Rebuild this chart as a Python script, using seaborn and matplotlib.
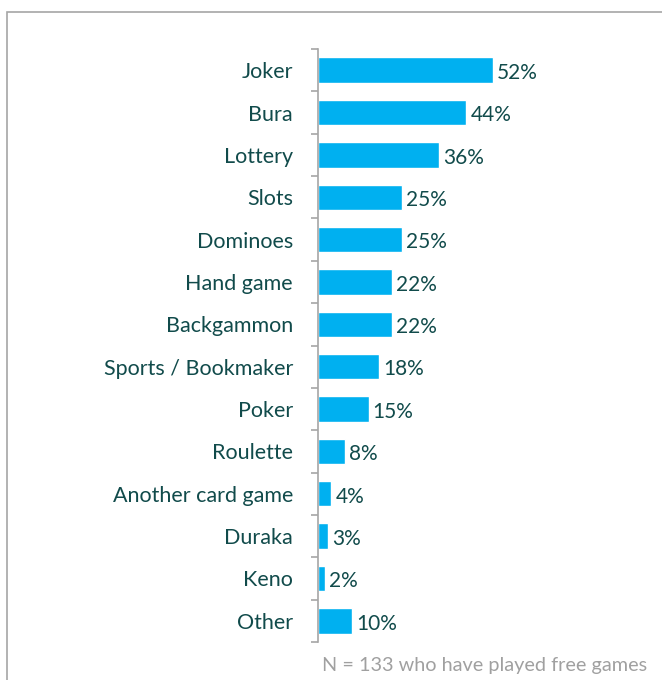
import matplotlib
matplotlib.use("Agg")
import matplotlib.pyplot as plt
from matplotlib.patches import Rectangle
from matplotlib.ticker import FixedLocator
import seaborn as sns
import pandas as pd

games = ["Joker", "Bura", "Lottery", "Slots", "Dominoes", "Hand game", "Backgammon",
         "Sports / Bookmaker", "Poker", "Roulette", "Another card game", "Duraka",
         "Keno", "Other"]
shares = [52, 44, 36, 25, 25, 22, 22, 18, 15, 8, 4, 3, 2, 10]
footnote = "N = 133 who have played free games"

bar_color = "#00B0F0"
text_color = "#114B4B"

sns.set_theme(style="white")
plt.rcParams["font.family"] = ["Lato", "DejaVu Sans"]

df = pd.DataFrame({"game": games, "share": shares})

fig = plt.figure(figsize=(6.62, 6.80), dpi=100)
ax = fig.add_axes([318 / 662, 1 - 642 / 680, (520 - 318) / 662, (642 - 49) / 680])

sns.barplot(data=df, x="share", y="game", orient="h", color=bar_color,
            width=0.6, saturation=1, ax=ax)

ax.set_xlim(0, 60)
ax.set_ylim(len(games) - 0.5, -0.5)
ax.set_xlabel("")
ax.set_ylabel("")
ax.set_xticks([])

for side in ("top", "right", "bottom"):
    ax.spines[side].set_visible(False)
ax.spines["left"].set_color("#A6A6A6")
ax.spines["left"].set_linewidth(1.2)

ax.tick_params(axis="y", which="major", length=0, pad=18, labelsize=15.5,
               labelcolor=text_color)
ax.yaxis.set_minor_locator(FixedLocator([i - 0.5 for i in range(len(games) + 1)]))
ax.tick_params(axis="y", which="minor", left=True, length=5, width=1.2, color="#A6A6A6")

value_labels = ax.bar_label(ax.containers[0], labels=[f"{v}%" for v in shares],
                            fontsize=15, color=text_color)
for lab in value_labels:
    lab.xyann = (3, -2)

fig.text(322 / 662, 1 - 666 / 680, footnote, fontsize=14.3, color="#A0A0A0",
         va="center", ha="left")

fig.patches.append(Rectangle((6.5 / 662, -0.01), 1.0, 1 - 11.5 / 680 + 0.01,
                             transform=fig.transFigure, fill=False,
                             edgecolor="#A6A6A6", linewidth=1.2))

fig.savefig("out.png", dpi=100)
